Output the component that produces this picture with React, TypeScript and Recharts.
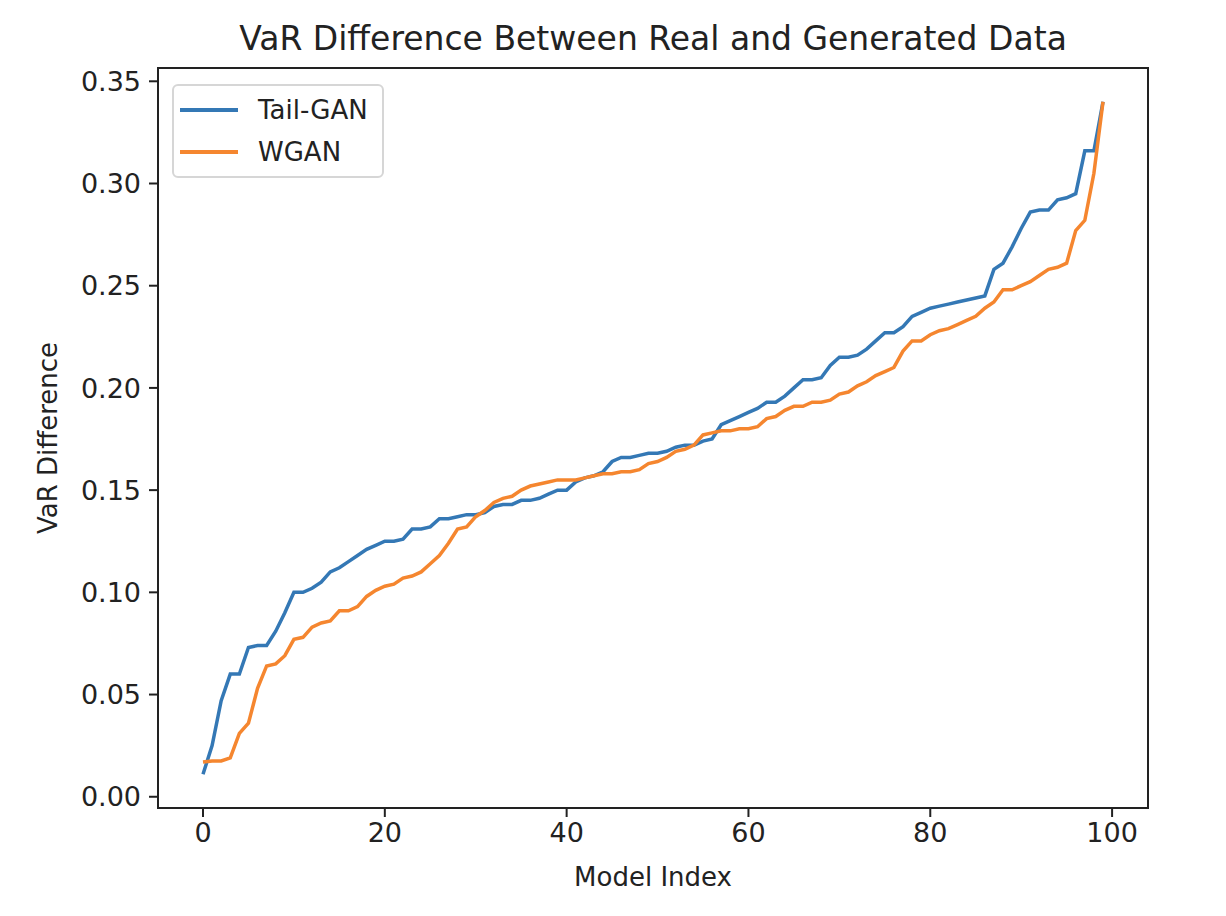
import { LineChart, Line, XAxis, YAxis, Legend, ReferenceArea } from 'recharts'

const FONT = '"DejaVu Sans", sans-serif'
const BLUE = '#3478b5'
const ORANGE = '#f5862f'

const INDEX = Array.from({ length: 100 }, (_, i) => i)

const TAIL_GAN = [
  0.011, 0.025, 0.047, 0.060, 0.060, 0.073, 0.074, 0.074, 0.081, 0.090,
  0.100, 0.100, 0.102, 0.105, 0.110, 0.112, 0.115, 0.118, 0.121, 0.123,
  0.125, 0.125, 0.126, 0.131, 0.131, 0.132, 0.136, 0.136, 0.137, 0.138,
  0.138, 0.139, 0.142, 0.143, 0.143, 0.145, 0.145, 0.146, 0.148, 0.150,
  0.150, 0.154, 0.156, 0.157, 0.159, 0.164, 0.166, 0.166, 0.167, 0.168,
  0.168, 0.169, 0.171, 0.172, 0.172, 0.174, 0.175, 0.182, 0.184, 0.186,
  0.188, 0.190, 0.193, 0.193, 0.196, 0.200, 0.204, 0.204, 0.205, 0.211,
  0.215, 0.215, 0.216, 0.219, 0.223, 0.227, 0.227, 0.230, 0.235, 0.237,
  0.239, 0.240, 0.241, 0.242, 0.243, 0.244, 0.245, 0.258, 0.261, 0.269,
  0.278, 0.286, 0.287, 0.287, 0.292, 0.293, 0.295, 0.316, 0.316, 0.340,
]

const WGAN = [
  0.017, 0.0175, 0.0175, 0.019, 0.031, 0.036, 0.053, 0.064, 0.065, 0.069,
  0.077, 0.078, 0.083, 0.085, 0.086, 0.091, 0.091, 0.093, 0.098, 0.101,
  0.103, 0.104, 0.107, 0.108, 0.110, 0.114, 0.118, 0.124, 0.131, 0.132,
  0.137, 0.140, 0.144, 0.146, 0.147, 0.150, 0.152, 0.153, 0.154, 0.155,
  0.155, 0.155, 0.156, 0.157, 0.158, 0.158, 0.159, 0.159, 0.160, 0.163,
  0.164, 0.166, 0.169, 0.170, 0.172, 0.177, 0.178, 0.179, 0.179, 0.180,
  0.180, 0.181, 0.185, 0.186, 0.189, 0.191, 0.191, 0.193, 0.193, 0.194,
  0.197, 0.198, 0.201, 0.203, 0.206, 0.208, 0.210, 0.218, 0.223, 0.223,
  0.226, 0.228, 0.229, 0.231, 0.233, 0.235, 0.239, 0.242, 0.248, 0.248,
  0.250, 0.252, 0.255, 0.258, 0.259, 0.261, 0.277, 0.282, 0.305, 0.340,
]

const X_DOMAIN = [-4.95, 103.95]
const Y_DOMAIN = [-0.0055, 0.3565]
const X_TICKS = [0, 20, 40, 60, 80, 100]
const Y_TICKS = [0, 0.05, 0.1, 0.15, 0.2, 0.25, 0.3, 0.35]

const SERIES = [
  { key: 'tail', name: 'Tail-GAN', color: BLUE },
  { key: 'wgan', name: 'WGAN', color: ORANGE },
]

const data = INDEX.map(i => ({ idx: i, tail: TAIL_GAN[i], wgan: WGAN[i] }))

const TICK = { fill: '#222', fontSize: 27, fontFamily: FONT }
const AXIS_LINE = { stroke: '#222', strokeWidth: 2 }

function LegendBox() {
  return (
    <div style={{
      border: '2px solid #d6d6d6', borderRadius: 6, background: 'rgba(255,255,255,0.8)',
      padding: '3px 14px 3px 6px', fontFamily: FONT, fontSize: 26, color: '#222',
    }}>
      {SERIES.map(s => (
        <div key={s.key} style={{ display: 'flex', alignItems: 'center', height: 42 }}>
          <span style={{ display: 'inline-block', width: 58, height: 4, background: s.color, marginRight: 20 }} />
          {s.name}
        </div>
      ))}
    </div>
  )
}

export default function App() {
  return (
    <div style={{ position: 'absolute', left: 0, top: 0, width: 1226, height: 916, background: '#fff' }}>
      <div style={{ position: 'absolute', left: 158, width: 990, top: 19, textAlign: 'center', fontFamily: FONT, fontSize: 33, color: '#222' }}>
        VaR Difference Between Real and Generated Data
      </div>
      <div style={{ position: 'absolute', left: 158, width: 990, top: 862, textAlign: 'center', fontFamily: FONT, fontSize: 26, color: '#222' }}>
        Model Index
      </div>
      <div style={{
        position: 'absolute', left: 48, top: 438, transform: 'translate(-50%, -50%) rotate(-90deg)',
        whiteSpace: 'nowrap', fontFamily: FONT, fontSize: 26, color: '#222',
      }}>
        VaR Difference
      </div>
      <LineChart width={1226} height={916} data={data} margin={{ top: 68, right: 78, left: 58, bottom: 48 }}>
        <XAxis
          dataKey="idx" type="number" domain={X_DOMAIN} ticks={X_TICKS} allowDataOverflow
          height={60} tick={TICK} tickSize={9} tickMargin={6}
          stroke="#222" axisLine={AXIS_LINE} tickLine={AXIS_LINE}
        />
        <YAxis
          type="number" domain={Y_DOMAIN} ticks={Y_TICKS} allowDataOverflow
          width={100} tick={TICK} tickSize={9} tickMargin={8}
          tickFormatter={(v: number) => v.toFixed(2)}
          stroke="#222" axisLine={AXIS_LINE} tickLine={AXIS_LINE}
        />
        <ReferenceArea
          x1={X_DOMAIN[0]} x2={X_DOMAIN[1]} y1={Y_DOMAIN[0]} y2={Y_DOMAIN[1]}
          fill="none" stroke="#222" strokeWidth={2} ifOverflow="visible"
        />
        <Legend layout="horizontal" align="center" verticalAlign="middle" wrapperStyle={{ top: 84, left: 172, width: 'auto' }} content={() => <LegendBox />} />
        {SERIES.map(s => (
          <Line key={s.key} dataKey={s.key} name={s.name} stroke={s.color} strokeWidth={3.5} dot={false} isAnimationActive={false} type="linear" />
        ))}
      </LineChart>
    </div>
  )
}
